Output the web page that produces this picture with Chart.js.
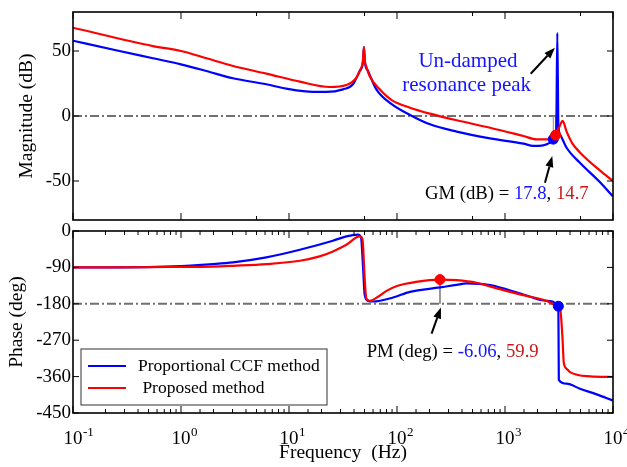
<!DOCTYPE html>
<html>
<head>
<meta charset="utf-8">
<script src="https://cdn.jsdelivr.net/npm/chart.js@4.4.1/dist/chart.umd.min.js"></script>
<style>
  body { margin: 0; background: #fff; }
  #wrap { position: relative; width: 627px; height: 467px; }
  canvas { position: absolute; left: 0; }
</style>
</head>
<body>
<div id="wrap">
  <canvas id="mag" width="627" height="226" style="top:0"></canvas>
  <canvas id="phase" width="627" height="247" style="top:220px"></canvas>
</div>
<script>
// magnitude, proportional CCF method (blue)
const blueMagHz = [0.1, 0.25, 0.55, 1, 1.72, 3.03, 6.17, 9.45, 16.7, 22.2, 31.6, 39.1, 45.1, 48.3, 49.4, 50.5, 53.9, 64.4, 88, 132, 202, 357, 727, 1480, 1830, 2260, 2610, 2800, 2980, 3050, 3120, 3230, 3720, 4940, 7590, 10000];
const blueMagDb = [57.9, 50.6, 44.4, 39.7, 34.6, 29, 24.4, 21, 18.5, 18.5, 20.5, 24.4, 34.6, 41, 53, 41, 34.6, 20.5, 9.5, 0.8, -6.4, -12, -17.2, -21.3, -23, -22.6, -20.5, -17.8, -12, 64, -6, -14, -24.4, -36, -51, -62];
// magnitude, proposed method (red)
const redMagHz = [0.1, 0.55, 1, 1.72, 3.03, 6.17, 12.6, 23.8, 34, 42.1, 46, 48.3, 49.4, 50.5, 52, 55.8, 69.2, 90, 132, 202, 357, 727, 1480, 1963, 2610, 2800, 2943, 3200, 3420, 3720, 4200, 4940, 7590, 10000];
const redMagDb = [67.9, 53.8, 50, 44.4, 38.5, 32.6, 26.4, 22.3, 23.8, 29.5, 36, 42, 53, 42, 38, 30.8, 20.5, 12, 6.4, 1.8, -3.3, -9, -15.4, -18, -18, -16.5, -14.7, -8, -3.8, -12, -21, -28, -42, -50];

// phase
const bluePhHz = [0.1, 0.3, 0.84, 1.98, 3.03, 6.17, 12.6, 25.5, 34, 43.5, 46.5, 48.5, 50.2, 53.9, 60.3, 91.9, 132, 250, 357, 442, 727, 1480, 2430, 3120, 3150, 3720, 4940, 7060, 10000];
const bluePhDeg = [-90, -90, -87.6, -81.8, -77.7, -65.3, -46.3, -24, -13.2, -9.1, -17, -90, -158, -172.7, -174.3, -164.4, -150.4, -139.6, -133, -129.7, -133.9, -157, -172.7, -186, -368, -377.6, -390, -404, -419];
const redPhHz = [0.1, 0.84, 1.98, 3.03, 6.17, 12.6, 19.2, 25.5, 34, 45.1, 47.9, 50.2, 51.9, 55.8, 69, 80, 100, 150, 250, 357, 546, 838, 1480, 2430, 3000, 3230, 3400, 3500, 3700, 4000, 6120, 10000];
const redPhDeg = [-90, -89, -88, -86, -81.8, -73.6, -62.8, -50.4, -33.9, -13.2, -20, -116.5, -166, -172.7, -160, -148, -136, -126, -120.1, -121.5, -128, -142, -158.7, -172.7, -184, -190, -260, -325, -340, -349, -359.5, -361];

// stability margins
const gmDb = [17.8, 14.7];        // blue, red
const gmHz = [2800, 2943];
const pmDeg = [-6.06, 59.9];      // blue, red
const pmHz = [3120, 250];

const magTicks = [-50, 0, 50];
const phaseTicks = [0, -90, -180, -270, -360, -450];
const freqRange = [0.1, 10000];
const seriesNames = ['Proportional CCF method', ' Proposed method'];

const BLUE = '#0000ff', RED = '#ff0000';
const TXT_BLUE = '#1414ff', TXT_RED = '#c81818';
const SERIF = "'Liberation Serif', 'Times New Roman', serif";

const pts = (xs, ys) => xs.map((x, i) => ({x, y: ys[i]}));
const isDecade = v => { const e = Math.log10(v); return Math.abs(e - Math.round(e)) < 1e-6; };

function curve(label, color, data, order) {
  return {label, data, borderColor: color, backgroundColor: color, borderWidth: 2.2,
    pointRadius: 0, cubicInterpolationMode: 'monotone', order};
}
function refLine(y) {
  return {data: [{x: freqRange[0], y}, {x: freqRange[1], y}], borderColor: '#707070',
    borderWidth: 2, borderDash: [9, 3, 2, 3], pointRadius: 0, order: 4};
}
function marks(data, colors) {
  return {data, pointRadius: 5, pointBackgroundColor: colors, pointBorderColor: colors,
    showLine: false, order: 0};
}

function arrow(ctx, x0, y0, x1, y1) {
  const a = Math.atan2(y1 - y0, x1 - x0), hl = 11, hw = 4;
  const bx = x1 - hl * Math.cos(a), by = y1 - hl * Math.sin(a);
  ctx.beginPath(); ctx.moveTo(x0, y0); ctx.lineTo(bx, by); ctx.stroke();
  ctx.beginPath(); ctx.moveTo(x1, y1);
  ctx.lineTo(bx + hw * Math.sin(a), by - hw * Math.cos(a));
  ctx.lineTo(bx - hw * Math.sin(a), by + hw * Math.cos(a));
  ctx.closePath(); ctx.fill();
}

// frame, inward ticks, decade labels, arrows and texts
function overlay(notes) {
  return {
    id: 'overlay',
    afterDatasetsDraw(chart) {
      const {ctx, chartArea: a, scales: {x, y}} = chart;
      ctx.save();
      ctx.strokeStyle = '#000'; ctx.lineWidth = 1;
      ctx.beginPath();
      x.ticks.forEach(t => {
        const px = x.getPixelForValue(t.value);
        const len = isDecade(t.value) ? 7 : 4;
        ctx.moveTo(px, a.bottom); ctx.lineTo(px, a.bottom - len);
        ctx.moveTo(px, a.top); ctx.lineTo(px, a.top + len);
      });
      y.ticks.forEach(t => {
        const py = y.getPixelForValue(t.value);
        ctx.moveTo(a.left, py); ctx.lineTo(a.left + 6, py);
        ctx.moveTo(a.right, py); ctx.lineTo(a.right - 6, py);
      });
      ctx.stroke();
      ctx.lineWidth = 1.6;
      ctx.strokeRect(a.left, a.top, a.right - a.left, a.bottom - a.top);

      if (notes.decadeLabels) {
        ctx.fillStyle = '#000'; ctx.textBaseline = 'middle';
        x.ticks.filter(t => isDecade(t.value)).forEach(t => {
          const px = x.getPixelForValue(t.value);
          ctx.font = '19px ' + SERIF; ctx.textAlign = 'center';
          ctx.fillText('10', px, a.bottom + 26);
          const w = ctx.measureText('10').width;
          ctx.font = '13px ' + SERIF; ctx.textAlign = 'left';
          ctx.fillText(String(Math.round(Math.log10(t.value))), px + w / 2 + 0.5, a.bottom + 20);
        });
      }

      ctx.fillStyle = '#000'; ctx.lineWidth = 2;
      notes.arrows.forEach(([f0, v0, f1, v1]) => {
        arrow(ctx, x.getPixelForValue(f0), y.getPixelForValue(v0), x.getPixelForValue(f1), y.getPixelForValue(v1));
      });

      ctx.textBaseline = 'middle';
      notes.texts.forEach(n => {
        ctx.font = n.size + 'px ' + SERIF;
        let px = x.getPixelForValue(n.f);
        const py = y.getPixelForValue(n.v);
        const w = n.parts.reduce((s, p) => s + ctx.measureText(p[0]).width, 0);
        if (n.align === 'center') px -= w / 2;
        ctx.textAlign = 'left';
        n.parts.forEach(([t, c]) => { ctx.fillStyle = c; ctx.fillText(t, px, py); px += ctx.measureText(t).width; });
      });

      if (notes.legend) {
        const lx = a.left + 8, ly = a.bottom - 64, lw = 246, lh = 56;
        ctx.fillStyle = '#fff'; ctx.fillRect(lx, ly, lw, lh);
        ctx.strokeStyle = '#333'; ctx.lineWidth = 1; ctx.strokeRect(lx, ly, lw, lh);
        ctx.font = '17.5px ' + SERIF; ctx.textAlign = 'left';
        seriesNames.forEach((name, i) => {
          const d = chart.data.datasets.find(ds => ds.label === name);
          const ry = ly + 17 + i * 22;
          ctx.strokeStyle = d.borderColor; ctx.lineWidth = 2.2;
          ctx.beginPath(); ctx.moveTo(lx + 7, ry); ctx.lineTo(lx + 45, ry); ctx.stroke();
          ctx.fillStyle = '#000'; ctx.fillText(name, lx + 57, ry);
        });
      }
      ctx.restore();
    }
  };
}

function yAxis(min, max, ticks, title, titlePad) {
  return {
    type: 'linear', min, max,
    afterFit: s => { s.width = 73; s.paddingTop = 0; s.paddingBottom = 0; },
    afterBuildTicks: s => { s.ticks = ticks.map(v => ({value: v})); },
    grid: {display: false, drawTicks: false}, border: {display: false},
    ticks: {color: '#000', padding: 2, font: {family: SERIF, size: 19}},
    title: {display: true, text: title, color: '#000', padding: {top: titlePad, bottom: 0},
      font: {family: SERIF, size: 19.5}}
  };
}

const gmText = {f: 181.6, v: -59.8, size: 18.7, parts: [['GM (dB) = ', '#000'], [String(gmDb[0]), TXT_BLUE], [', ', '#000'], [String(gmDb[1]), TXT_RED]]};
const pmText = {f: 52.4, v: -299, size: 18.7, parts: [['PM (deg) = ', '#000'], [String(pmDeg[0]), TXT_BLUE], [', ', '#000'], [String(pmDeg[1]), TXT_RED]]};

new Chart(document.getElementById('mag'), {
  type: 'line',
  data: {
    datasets: [
      marks([{x: gmHz[0], y: -gmDb[0]}, {x: gmHz[1], y: -gmDb[1]}], [BLUE, RED]),
      curve('', RED, pts(redMagHz, redMagDb), 1),
      curve('', BLUE, pts(blueMagHz, blueMagDb), 2),
      {data: [{x: gmHz[0], y: -gmDb[0]}, {x: gmHz[0], y: 0}, {x: gmHz[1], y: 0}, {x: gmHz[1], y: -gmDb[1]}],
        borderColor: '#8a8a8a', borderWidth: 1, pointRadius: 0, order: 3},
      refLine(0)
    ]
  },
  options: {
    responsive: false, animation: false, parsing: false,
    layout: {padding: {left: 0, right: 14, top: 12, bottom: 6}},
    plugins: {legend: {display: false}, tooltip: {enabled: false}},
    scales: {
      x: {type: 'logarithmic', min: freqRange[0], max: freqRange[1], display: false},
      y: yAxis(-80, 80, magTicks, 'Magnitude (dB)', 15)
    }
  },
  plugins: [overlay({
    arrows: [[1730, 32.5, 2900, 52.5], [2345, -51.3, 2740, -30.8]],
    texts: [
      {f: 454, v: 42.3, size: 21, align: 'center', parts: [['Un-damped', TXT_BLUE]]},
      {f: 441, v: 23.1, size: 21, align: 'center', parts: [['resonance peak', TXT_BLUE]]},
      gmText
    ]
  })]
});

new Chart(document.getElementById('phase'), {
  type: 'line',
  data: {
    datasets: [
      marks([{x: pmHz[0], y: -180 + pmDeg[0]}, {x: pmHz[1], y: -180 + pmDeg[1]}], [BLUE, RED]),
      curve(seriesNames[1], RED, pts(redPhHz, redPhDeg), 1),
      curve(seriesNames[0], BLUE, pts(bluePhHz, bluePhDeg), 2),
      {data: [{x: pmHz[1], y: -180 + pmDeg[1]}, {x: pmHz[1], y: -180}],
        borderColor: '#8a8a8a', borderWidth: 1, pointRadius: 0, order: 3},
      refLine(-180)
    ]
  },
  options: {
    responsive: false, animation: false, parsing: false,
    layout: {padding: {left: 0, right: 14, top: 11, bottom: 0}},
    plugins: {legend: {display: false}, tooltip: {enabled: false}},
    scales: {
      x: {
        type: 'logarithmic', min: freqRange[0], max: freqRange[1],
        afterFit: s => { s.height = 54; s.paddingLeft = 0; s.paddingRight = 0; },
        grid: {display: false, drawTicks: false}, border: {display: false},
        ticks: {display: false, autoSkip: false},
        title: {display: true, text: 'Frequency  (Hz)', color: '#000', padding: {top: 0, bottom: 2},
          font: {family: SERIF, size: 19.5}}
      },
      y: yAxis(-450, 0, phaseTicks, 'Phase (deg)', 5)
    }
  },
  plugins: [overlay({
    arrows: [[209, -253.6, 255, -189]],
    texts: [pmText],
    legend: true,
    decadeLabels: true
  })]
});
</script>
</body>
</html>
